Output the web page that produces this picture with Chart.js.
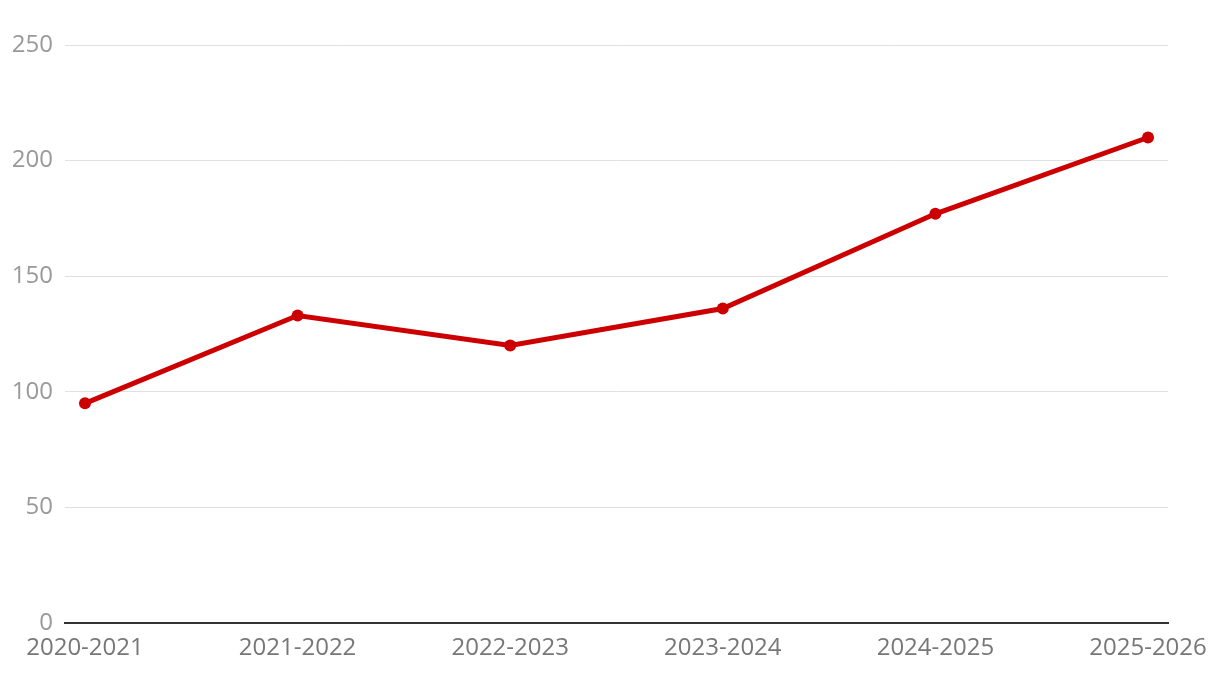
<!DOCTYPE html>
<html>
<head>
<meta charset="utf-8">
<script src="https://cdn.jsdelivr.net/npm/chart.js@4/dist/chart.umd.min.js"></script>
<style>
html,body{margin:0;padding:0;background:#fff;}
#wrap{width:1220px;height:674px;position:relative;}
</style>
</head>
<body>
<div id="wrap"><canvas id="c" width="1220" height="674"></canvas></div>
<script>
const categories = ["2020-2021","2021-2022","2022-2023","2023-2024","2024-2025","2025-2026"];
const values = [95, 133, 120, 136, 177, 210];
const yTicks = [0, 50, 100, 150, 200, 250];

const points = values.map((v, i) => ({x: i, y: v}));

new Chart(document.getElementById('c'), {
  type: 'line',
  data: {
    datasets: [{
      data: points,
      borderColor: '#cc0000',
      backgroundColor: '#cc0000',
      borderWidth: 5,
      pointRadius: 6,
      pointHoverRadius: 6,
      pointBorderWidth: 0,
      tension: 0
    }]
  },
  options: {
    responsive: false,
    animation: false,
    layout: {padding: {top: 45, right: 52, left: 0, bottom: 0}},
    plugins: {legend: {display: false}, tooltip: {enabled: false}},
    scales: {
      x: {
        type: 'linear',
        min: -0.094,
        max: 5.094,
        afterFit: s => { s.height = 51; },
        afterBuildTicks: s => { s.ticks = categories.map((c, i) => ({value: i})); },
        ticks: {
          autoSkip: false,
          maxRotation: 0,
          color: '#777777',
          padding: 11,
          font: {family: 'Open Sans', size: 24},
          callback: v => categories[v]
        },
        grid: {display: false, drawTicks: false},
        border: {display: true, color: '#333333', width: 2}
      },
      y: {
        min: 0,
        max: 250,
        afterFit: s => { s.width = 65; },
        afterBuildTicks: s => { s.ticks = yTicks.map(v => ({value: v})); },
        ticks: {
          color: '#999999',
          padding: 12,
          font: {family: 'Open Sans', size: 24}
        },
        grid: {color: '#e0e0e0', lineWidth: 1, drawTicks: false},
        border: {display: false}
      }
    }
  }
});
</script>
</body>
</html>
